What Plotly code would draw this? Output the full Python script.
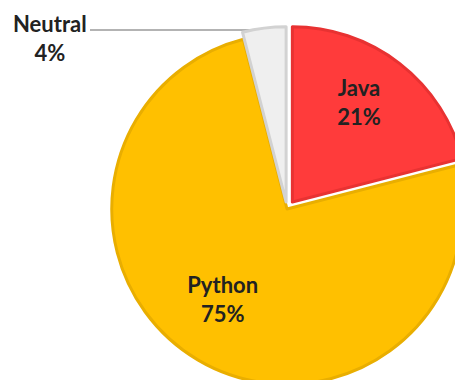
import plotly.graph_objects as go

# ---- data ----
labels = ["Java", "Python", "Neutral"]
values = [21, 75, 4]
colors = ["#FF3B3B", "#FFC000", "#EFEFEF"]
edge_colors = ["#E83232", "#E9AE00", "#D2D2D2"]
pulls = [0.05, 0.0, 0.04]
NB = "\u00a0"
text_templates = [
    "<b>%{label}</b><br><b>%{percent}</b><br>" + NB,
    NB + "<br><b>%{label}</b>" + NB * 7 + "<br><b>%{percent}</b>" + NB * 7,
    "",
]
neutral_label = "<b>Neutral</b><br><b>4%</b>"

# ---- layout geometry (pixels) ----
L, T, W, H = 103, 25, 368, 368
FIG_W, FIG_H = L + W, T + H


def px(x):
    return (x - L) / W


def py(y):
    return 1 - (y - T) / H


FONT = dict(family="Lato, Open Sans, sans-serif", size=22, color="#222222")

fig = go.Figure(
    go.Pie(
        labels=labels,
        values=values,
        sort=False,
        direction="clockwise",
        rotation=0,
        pull=pulls,
        marker=dict(colors=colors, line=dict(color=edge_colors, width=3)),
        texttemplate=text_templates,
        textposition="inside",
        insidetextorientation="horizontal",
        insidetextfont=FONT,
        hoverinfo="skip",
        showlegend=False,
        domain=dict(x=[0, 1], y=[0, 1]),
    )
)

fig.add_annotation(
    text=neutral_label,
    x=px(50), y=py(38),
    xref="paper", yref="paper",
    xanchor="center", yanchor="middle",
    showarrow=False,
    font=FONT,
)
fig.add_shape(
    type="line",
    xref="paper", yref="paper",
    x0=px(90), y0=py(30), x1=px(272), y1=py(30),
    line=dict(color="#9A9A9A", width=1.3),
    layer="below",
)

fig.update_layout(
    width=FIG_W,
    height=FIG_H,
    margin=dict(l=L, r=0, t=T, b=0, pad=0),
    paper_bgcolor="white",
    plot_bgcolor="white",
)

fig.write_html(
    "out.html",
    config={"displayModeBar": False},
    post_script=(
        "document.body.style.margin='0';"
        "document.body.style.overflow='hidden';"
        "document.documentElement.style.overflow='hidden';"
    ),
)
